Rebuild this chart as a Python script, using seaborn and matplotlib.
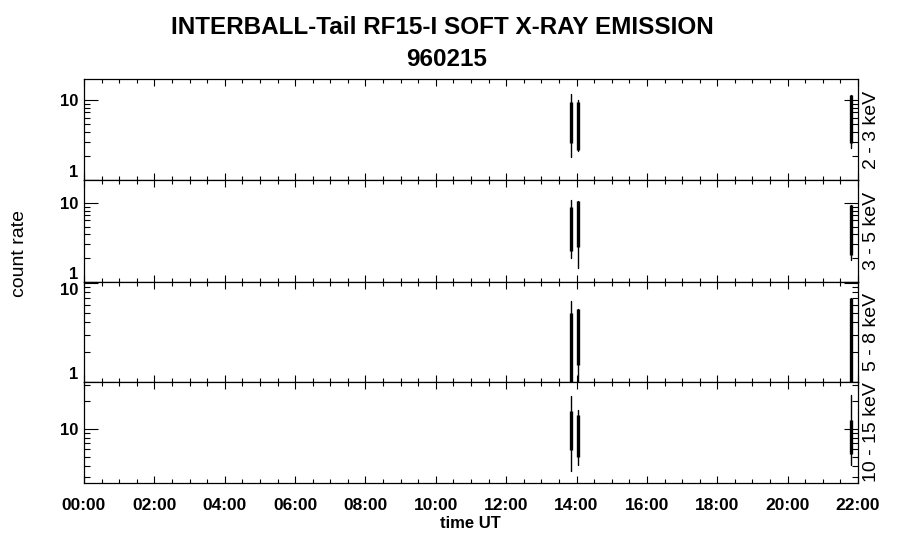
import matplotlib
matplotlib.use("Agg")
import matplotlib.pyplot as plt
import matplotlib.ticker as mticker
import numpy as np
import pandas as pd
import seaborn as sns

# ── Data ───────────────────────────────────────────────────────────────────
# burst times in hours UT: A ~13:50, B ~14:02, C ~21:47
BURST_T = [13.83, 14.03, 21.79]

BANDS = ["2 - 3 keV", "3 - 5 keV", "5 - 8 keV", "10 - 15 keV"]

# full (thin) range of each burst, per band
THIN_LO = [[1.96, 2.3, 2.5], [2.0, 1.49, 1.9], [0.9, 0.9, 0.9], [3.52, 4.06, 4.06]]
THIN_HI = [[11.9, 10.0, 11.5], [10.9, 10.7, 9.5], [6.6, 5.46, 7.07], [22.4, 15.8, 23.4]]
# dense core (thick) range of each burst, per band
THICK_LO = [[2.9, 2.4, 2.9], [2.49, 2.8, 2.2], [0.9, 1.48, 0.9], [5.9, 5.0, 5.4]]
THICK_HI = [[9.4, 9.5, 11.5], [9.0, 10.7, 9.3], [4.94, 5.46, 7.0], [15.4, 14.2, 12.5]]

YLIMS = [(1.0, 18.3), (1.0, 19.5), (1.0, 10.2), (2.6, 32.0)]
Y_TICKS = [[1, 10], [1, 10], [1, 10], [10]]

X_TICKS = list(range(0, 23, 2))
X_LABELS = [f"{h:02d}:00" for h in X_TICKS]

# ── Layout (pixels of a 900x548 canvas) ────────────────────────────────────
W, H = 900, 548
LEFT, RIGHT = 84, 858
EDGES = [79, 180, 282, 382, 483]

sns.set_theme(style="ticks")
plt.rcParams["font.family"] = ["Liberation Sans", "DejaVu Sans"]
plt.rcParams.update({"axes.linewidth": 0.9, "text.color": "black",
                     "axes.labelcolor": "black", "xtick.color": "black",
                     "ytick.color": "black", "axes.edgecolor": "black"})

fig = plt.figure(figsize=(W / 100, H / 100), dpi=100)
fig.patch.set_facecolor("white")

for i, band in enumerate(BANDS):
    top, bot = EDGES[i], EDGES[i + 1]
    ax = fig.add_axes([LEFT / W, 1 - bot / H, (RIGHT - LEFT) / W, (bot - top) / H])

    rows = []
    for j, t in enumerate(BURST_T):
        rows += [(t, THIN_LO[i][j], j, "thin"), (t, THIN_HI[i][j], j, "thin"),
                 (t, THICK_LO[i][j], j, "thick"), (t, THICK_HI[i][j], j, "thick")]
    df = pd.DataFrame(rows, columns=["time", "rate", "seg", "kind"])

    sns.lineplot(data=df[df["kind"] == "thin"], x="time", y="rate", units="seg",
                 estimator=None, sort=False, color="black", lw=1.0, ax=ax)
    sns.lineplot(data=df[df["kind"] == "thick"], x="time", y="rate", units="seg",
                 estimator=None, sort=False, color="black", lw=2.4, ax=ax,
                 solid_capstyle="butt")

    ax.set_yscale("log")
    ax.set_ylim(*YLIMS[i])
    ax.set_xlim(0, 22)
    ax.set_xlabel("")
    ax.set_ylabel("")
    ax.set_facecolor("white")
    for s in ax.spines.values():
        s.set_visible(True)

    ax.set_yticks(Y_TICKS[i])
    ax.set_yticklabels([f"{v:g}" for v in Y_TICKS[i]], fontsize=12, fontweight="bold")
    ax.yaxis.set_minor_locator(mticker.LogLocator(base=10, subs=np.arange(2, 10), numticks=10))
    ax.yaxis.set_minor_formatter(mticker.NullFormatter())
    ax.set_xticks(X_TICKS)
    ax.xaxis.set_minor_locator(mticker.MultipleLocator(0.5))

    # labels sitting on a panel edge are nudged inside, as in the original
    lo, hi = YLIMS[i]
    for tk, v in zip(ax.yaxis.get_major_ticks(), Y_TICKS[i]):
        if abs(np.log10(v) - np.log10(lo)) < 0.02:
            tk.label1.set_va("bottom")
        elif abs(np.log10(v) - np.log10(hi)) < 0.02:
            tk.label1.set_va("top")

    ax.tick_params(axis="y", which="major", direction="in", length=10, width=0.8,
                   left=True, right=True, pad=4)
    ax.tick_params(axis="y", which="minor", direction="in", length=4.3, width=0.8,
                   left=True, right=True)
    ax.tick_params(axis="x", which="major", direction="in", length=5, width=0.8,
                   top=True, bottom=True)
    ax.tick_params(axis="x", which="minor", direction="in", length=3, width=0.8,
                   top=True, bottom=True)

    if i < len(BANDS) - 1:
        ax.set_xticklabels([])
    else:
        ax.set_xticklabels(X_LABELS, fontsize=12.5, fontweight="bold")
        ax.tick_params(axis="x", which="major", pad=11)

    fig.text(871 / W, 1 - (top + bot) / 2 / H, band, rotation=90,
             ha="center", va="center", fontsize=14)

fig.text(442 / W, 1 - 27 / H, "INTERBALL-Tail RF15-I SOFT X-RAY EMISSION",
         ha="center", va="center", fontsize=17.5, fontweight="bold")
fig.text(447 / W, 1 - 60 / H, "960215", ha="center", va="center",
         fontsize=17.5, fontweight="bold")
fig.text(19 / W, 1 - 253 / H, "count rate", rotation=90, ha="center",
         va="center", fontsize=14)
fig.text(470 / W, 1 - 523 / H, "time UT", ha="center", va="center",
         fontsize=12, fontweight="bold")

fig.savefig("out.png", dpi=100, facecolor="white")
